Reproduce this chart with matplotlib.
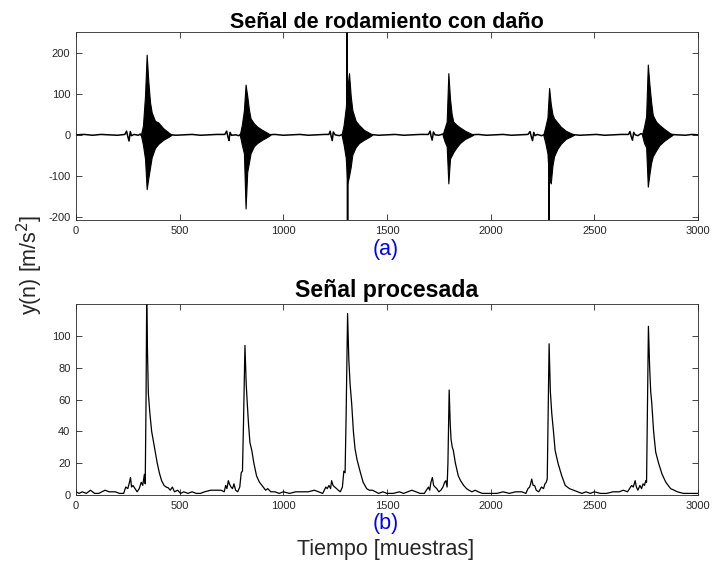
import numpy as np
import matplotlib.pyplot as plt

plt.rcParams['font.family'] = ['Liberation Sans', 'DejaVu Sans']
plt.rcParams['axes.unicode_minus'] = False

# ---- (a) raw bearing signal --------------------------------------------
# quiet baseline (with the small pre-impact wiggles and the two clipped spikes)
base_x = [0, 40, 80, 120, 160, 200, 236, 244, 250, 256, 262, 268, 280, 300, 310, 318,
          450, 480, 520, 560, 600, 640, 680, 718, 727, 733, 738, 743, 750, 770, 785, 795,
          925, 960, 1000, 1040, 1080, 1120, 1160, 1200, 1220, 1226, 1231, 1236, 1241, 1250, 1270, 1285,
          1307, 1308, 1310, 1311, 1420, 1460, 1500, 1540, 1580, 1620, 1660, 1700, 1708, 1713,
          1718, 1724, 1732, 1750, 1770, 1785, 1900, 1940, 1980, 2020, 2060, 2100, 2140, 2180,
          2190, 2196, 2202, 2208, 2214, 2225, 2245, 2262, 2280, 2281, 2283, 2390, 2430, 2470,
          2510, 2550, 2590, 2630, 2665, 2672, 2678, 2684, 2690, 2697, 2710, 2725, 2738,
          2870, 2900, 2940, 2970, 3000]
base_y = [0, 1, -1, 1, 0, -1, 1, 9, -4, -15, 8, -2, 1, -1, 2, -4,
          1, -1, 0, 1, -1, 0, 1, 1, 9, -5, -14, 6, -1, 0, -2, 2,
          0, 1, -1, 0, 1, -1, 0, 1, 1, 9, -4, -14, 7, 0, -2, 1,
          0, 300, -300, 0, 1, -1, 0, 1, -1, 0, 1, 1, 9, -4,
          -13, 7, 0, -1, 2, -2, 0, 1, -1, 0, 1, -1, 0, 1,
          8, -4, -14, 6, -2, 1, -2, 1, 0, -300, 0, 1, -1, 0,
          1, -1, 0, 1, 1, 8, -4, -13, 6, 0, -2, 3, 0,
          1, 0, -1, 1, 0]

# impact bursts: envelope read at offsets (samples) from each burst peak
burst_peak = [341, 818, 1309, 1796, 2282, 2758]
burst_off = [-28, -18, -8, 0, 8, 16, 24, 40, 56, 80, 105, 120]
burst_upper = [
    [0, 22, 95, 195, 130, 80, 55, 34, 30, 16, 6, 0],
    [0, 24, 60, 122, 95, 62, 40, 28, 20, 12, 5, 0],
    [0, 24, 65, 115, 150, 95, 60, 34, 24, 12, 5, 0],
    [0, 16, 32, 150, 88, 50, 32, 24, 18, 10, 4, 0],
    [0, 20, 42, 114, 75, 50, 40, 30, 20, 10, 4, 0],
    [0, 20, 45, 171, 122, 80, 48, 32, 24, 14, 5, 0],
]
burst_lower = [
    [0, -24, -58, -132, -105, -80, -55, -32, -22, -12, -5, 0],
    [0, -24, -45, -179, -90, -68, -45, -28, -20, -12, -5, 0],
    [0, -24, -55, -118, -100, -78, -48, -30, -20, -12, -5, 0],
    [0, -16, -28, -118, -58, -50, -42, -30, -20, -10, -4, 0],
    [0, -20, -45, -110, -118, -75, -52, -34, -22, -10, -4, 0],
    [0, -20, -30, -126, -95, -68, -52, -38, -25, -14, -5, 0],
]

# ---- (b) processed signal (envelope) ----------------------------------
proc_x = [0, 15, 30, 50, 70, 90, 110, 140, 160, 190, 210, 230, 240, 250, 258, 263, 268, 275,
          285, 295, 305, 315, 322, 330, 334, 338, 341, 345, 349, 356, 365, 373, 382, 392,
          402, 413, 425, 435, 445, 455, 465, 475, 490, 505, 520, 540, 560, 580, 600, 620,
          650, 680, 700, 715, 722, 728, 735, 740, 748, 755, 762, 770, 780, 790, 797, 803,
          808, 815, 821, 826, 832, 839, 848, 858, 871, 885, 903, 915, 925, 940, 960, 980,
          1000, 1030, 1060, 1090, 1120, 1150, 1170, 1190, 1205, 1212, 1220, 1228, 1233, 1240,
          1248, 1257, 1265, 1275, 1285, 1292, 1298, 1303, 1310, 1316, 1322, 1330, 1338, 1346,
          1356, 1370, 1385, 1402, 1415, 1430, 1445, 1460, 1480, 1500, 1530, 1560, 1580, 1600,
          1620, 1640, 1660, 1680, 1700, 1706, 1712, 1719, 1725, 1732, 1740, 1750, 1760, 1770,
          1778, 1784, 1790, 1794, 1800, 1805, 1809, 1815, 1820, 1830, 1844, 1855, 1870, 1884,
          1895, 1910, 1925, 1940, 1960, 1980, 2000, 2030, 2060, 2090, 2120, 2150, 2170, 2180,
          2188, 2193, 2198, 2205, 2212, 2220, 2232, 2245, 2255, 2262, 2268, 2273, 2278, 2282,
          2288, 2295, 2303, 2311, 2325, 2343, 2360, 2380, 2400, 2420, 2440, 2460, 2480, 2500,
          2530, 2560, 2590, 2620, 2640, 2660, 2670, 2680, 2688, 2697, 2703, 2710, 2720, 2728,
          2735, 2742, 2748, 2752, 2755, 2761, 2767, 2772, 2777, 2786, 2796, 2810, 2827, 2845,
          2868, 2885, 2900, 2930, 2960, 2980, 3000]
proc_y = [2, 1, 2, 1, 3, 1, 1, 3, 2, 2, 1, 1, 5, 4, 8, 11, 5, 6,
          4, 2, 4, 8, 6, 13, 7, 60, 121, 90, 64, 52, 40, 34, 27, 20,
          14, 9, 6, 5, 4.5, 3, 5, 2, 3, 1, 2, 1, 2, 1, 1, 2,
          3, 3, 3, 2, 6, 4, 9, 7, 5, 4, 7, 3, 2, 5, 14, 15,
          45, 94, 70, 58, 45, 33, 28, 20, 12, 8, 5, 3, 4, 2, 2, 1,
          2, 1, 2, 2, 2, 3, 2, 1, 5, 4, 6, 4, 9, 6,
          5, 4, 3, 2, 5, 15, 14, 50, 114, 85, 70, 57, 40, 29,
          22, 15, 8, 4, 3, 3, 2, 1, 2, 1, 1, 2, 1, 2,
          3, 2, 1, 1, 5, 3, 8, 11, 6, 5, 4, 2, 3, 5,
          8, 9, 5, 20, 66, 45, 35, 30, 28, 20, 12, 9, 6, 4,
          3, 2, 3, 2, 1, 1, 1, 1, 2, 1, 2, 2, 1, 4,
          5, 7, 10, 6, 6, 3, 2, 5, 4, 7, 8, 10, 60, 95,
          65, 51, 40, 28, 20, 12, 6, 4, 3, 2, 1, 2, 1, 2,
          1, 1, 2, 2, 3, 2, 4, 6, 5, 9, 5, 3, 6, 4,
          7, 6, 9, 8, 40, 106, 80, 65, 58, 40, 27, 20, 13, 8,
          4, 3, 2, 1, 1, 1, 1]

axis_col = '#262626'

fig = plt.figure(figsize=(7.12, 5.65), dpi=100)
ax1 = fig.add_axes([0.1067, 0.6106, 0.8736, 0.3328])
ax2 = fig.add_axes([0.1067, 0.1239, 0.8736, 0.3380])

ax1.plot(base_x, base_y, color='black', lw=1.1)
for p, up, lo in zip(burst_peak, burst_upper, burst_lower):
    xs = [p + o for o in burst_off]
    ax1.fill_between(xs, lo, up, color='black', lw=0.8, edgecolor='black')
ax1.set_xlim(0, 3000)
ax1.set_ylim(-207, 250)
ax1.set_xticks(range(0, 3001, 500))
ax1.set_yticks([-200, -100, 0, 100, 200])
ax1.set_title('Señal de rodamiento con daño', fontsize=15.5, fontweight='bold', pad=3)

ax2.plot(proc_x, proc_y, color='black', lw=0.9)
ax2.set_xlim(0, 3000)
ax2.set_ylim(0, 120)
ax2.set_xticks(range(0, 3001, 500))
ax2.set_yticks(range(0, 101, 20))
ax2.set_title('Señal procesada', fontsize=16.7, fontweight='bold', pad=5)

for ax in (ax1, ax2):
    ax.tick_params(direction='in', top=True, right=True, length=4, width=0.6,
                   labelsize=8, colors=axis_col, pad=4)
    for s in ax.spines.values():
        s.set_color(axis_col)
        s.set_linewidth(0.6)

fig.text(0.5421, 1 - 250 / 565, '(a)', color='blue', fontsize=15.5, ha='center', va='center')
fig.text(0.5421, 1 - 523 / 565, '(b)', color='blue', fontsize=15.5, ha='center', va='center')
fig.text(0.5421, 1 - 549 / 565, 'Tiempo [muestras]', color=axis_col, fontsize=15.5,
         ha='center', va='center')
fig.text(30 / 712, 1 - 265 / 565, 'y(n) [m/s$^2$]', color=axis_col, fontsize=15.5,
         rotation=90, ha='center', va='center')

fig.savefig('out.png', dpi=100)
